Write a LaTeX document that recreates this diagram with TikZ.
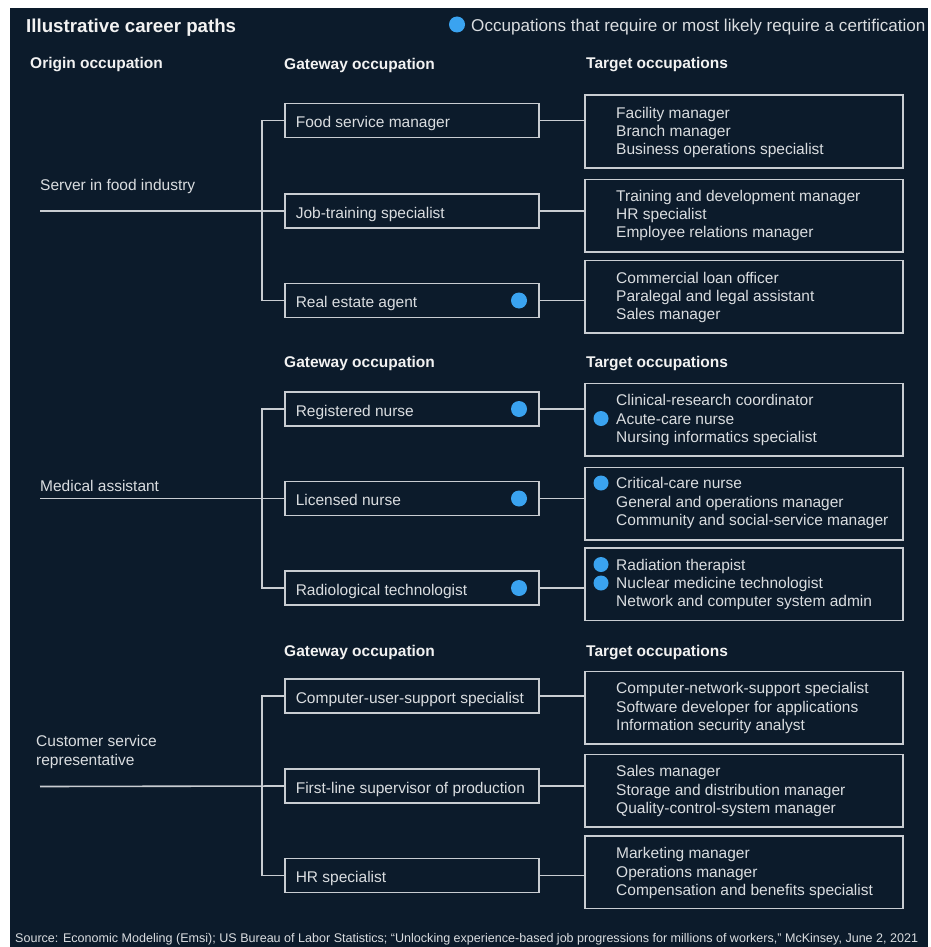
\documentclass[tikz,border=0pt]{standalone}
\usepackage{fontspec}
\setmainfont{Liberation Sans}
\usepackage{graphicx}
\definecolor{bgc}{HTML}{0C1B2B}
\definecolor{linec}{HTML}{C9CDD2}
\definecolor{txtc}{HTML}{DADDE0}
\definecolor{hdrc}{HTML}{F2F2F2}
\definecolor{dotc}{HTML}{3AA3F0}
\newcommand{\bodyfnt}{\fontsize{15.5}{18.3}\selectfont}
\newcommand{\hdrfnt}{\fontsize{15.5}{18}\selectfont\bfseries}
\begin{document}
\begin{tikzpicture}[x=1pt,y=-1pt,
  conn/.style={draw=linec, line width=1.6pt},
  gw/.style={draw=linec, line width=1.6pt, minimum height=34pt, inner xsep=11pt, inner ysep=0pt, text height=14pt, text depth=0pt, anchor=west, font=\bodyfnt, text=txtc},
  tbox/.style={draw=linec, line width=1.6pt, minimum width=318pt, minimum height=72.5pt, anchor=north west, inner sep=0pt},
  tlist/.style={anchor=west, align=left, font=\bodyfnt, text=txtc, inner sep=0pt},
  hdr/.style={anchor=west, font=\hdrfnt, text=hdrc, inner sep=0pt},
  orig/.style={anchor=west, align=left, font=\bodyfnt, text=txtc, inner sep=0pt},
  dotn/.style={circle, fill=dotc, minimum size=16pt, inner sep=0pt},
  tdot/.style={circle, fill=dotc, minimum size=15pt, inner sep=0pt}
]
\useasboundingbox (0,0) rectangle (930,947);
\fill[bgc] (10,8) rectangle (928,947);

% title and legend
\node[anchor=west, inner sep=0pt, text=hdrc, font=\fontsize{18.7}{20}\selectfont\bfseries] (title) at (26,28) {Illustrative career paths};
\node[dotn] (legdot) at (457,24.5) {};
\node[anchor=west, inner sep=0pt, text=txtc, font=\fontsize{17.1}{19}\selectfont] (legtxt) at (471,27) {Occupations that require or most likely require a certification};

% headers
\node[hdr] (hO) at (30,65) {Origin occupation};
\node[hdr] (hG1) at (284,65) {Gateway occupation};
\node[hdr] (hT1) at (586,65) {Target occupations};
\node[hdr] (hG2) at (284,363.5) {Gateway occupation};
\node[hdr] (hT2) at (586,363.5) {Target occupations};
\node[hdr] (hG3) at (284,652.5) {Gateway occupation};
\node[hdr] (hT3) at (586,652.5) {Target occupations};

\coordinate (bx) at (262,0);

% ---------- section 1
\node[orig] (o1) at (40,186) {Server in food industry};
\coordinate (o1s) at (40,211);
\node[gw] (g1) at (284,120.5) {\makebox[232pt][l]{Food service manager}};
\node[gw] (g2) at (284,211) {\makebox[232pt][l]{Job-training specialist}};
\node[gw] (g3) at (284,300.5) {\makebox[232pt][l]{Real estate agent}};
\node[dotn] (g3d) at (519,300.5) {};
\node[tbox] (t1) at (584,94.5) {};
\node[tbox] (t2) at (584,178.5) {};
\node[tbox] (t3) at (584,259.5) {};
\node[tlist] (t1x) at (616,132.5) {Facility manager\\Branch manager\\Business operations specialist};
\node[tlist] (t2x) at (616,215.5) {Training and development manager\\HR specialist\\Employee relations manager};
\node[tlist] (t3x) at (616,297.5) {Commercial loan officer\\Paralegal and legal assistant\\Sales manager};
\draw[conn] (g1.west) -- (g1.west -| bx) -- (g3.west -| bx) -- (g3.west);
\draw[conn] (o1s) -- (g2.west);
\draw[conn] (g1.east) -- (g1.east -| t1.west);
\draw[conn] (g2.east) -- (g2.east -| t2.west);
\draw[conn] (g3.east) -- (g3.east -| t3.west);

% ---------- section 2
\node[orig] (o2) at (40,486) {Medical assistant};
\coordinate (o2s) at (40,498.5);
\node[gw] (g4) at (284,409) {\makebox[232pt][l]{Registered nurse}};
\node[gw] (g5) at (284,498.5) {\makebox[232pt][l]{Licensed nurse}};
\node[gw] (g6) at (284,588) {\makebox[232pt][l]{Radiological technologist}};
\node[dotn] (g4d) at (519,409) {};
\node[dotn] (g5d) at (519,498.5) {};
\node[dotn] (g6d) at (519,588) {};
\node[tbox] (t4) at (584,382.5) {};
\node[tbox] (t5) at (584,466.5) {};
\node[tbox] (t6) at (584,547) {};
\node[tlist] (t4x) at (616,420) {Clinical-research coordinator\\Acute-care nurse\\Nursing informatics specialist};
\node[tlist] (t5x) at (616,503) {Critical-care nurse\\General and operations manager\\Community and social-service manager};
\node[tlist] (t6x) at (616,584.5) {Radiation therapist\\Nuclear medicine technologist\\Network and computer system admin};
\node[tdot] (t4d) at (601,418.5) {};
\node[tdot] (t5d) at (601,483) {};
\node[tdot] (t6d1) at (601,564.5) {};
\node[tdot] (t6d2) at (601,583) {};
\draw[conn] (g4.west) -- (g4.west -| bx) -- (g6.west -| bx) -- (g6.west);
\draw[conn] (o2s) -- (g5.west);
\draw[conn] (g4.east) -- (g4.east -| t4.west);
\draw[conn] (g5.east) -- (g5.east -| t5.west);
\draw[conn] (g6.east) -- (g6.east -| t6.west);

% ---------- section 3
\node[orig] (o3) at (36,752) {Customer service\\representative};
\coordinate (o3s) at (40,786.5);
\node[gw] (g7) at (284,696) {\makebox[232pt][l]{Computer-user-support specialist}};
\node[gw] (g8) at (284,786) {\makebox[232pt][l]{First-line supervisor of production}};
\node[gw] (g9) at (284,875.5) {\makebox[232pt][l]{HR specialist}};
\node[tbox] (t7) at (584,670.5) {};
\node[tbox] (t8) at (584,753.5) {};
\node[tbox] (t9) at (584,835) {};
\node[tlist] (t7x) at (616,708) {Computer-network-support specialist\\Software developer for applications\\Information security analyst};
\node[tlist] (t8x) at (616,791) {Sales manager\\Storage and distribution manager\\Quality-control-system manager};
\node[tlist] (t9x) at (616,873) {Marketing manager\\Operations manager\\Compensation and benefits specialist};
\draw[conn] (g7.west) -- (g7.west -| bx) -- (g9.west -| bx) -- (g9.west);
\draw[conn] (o3s) -- (g8.west);
\draw[conn] (g7.east) -- (g7.east -| t7.west);
\draw[conn] (g8.east) -- (g8.east -| t8.west);
\draw[conn] (g9.east) -- (g9.east -| t9.west);

% footer
\node[anchor=west, inner sep=0pt, text=txtc] (src) at (15,939) {\resizebox{903pt}{!}{\fontsize{12}{14}\selectfont Source: Economic Modeling (Emsi); US Bureau of Labor Statistics; ``Unlocking experience-based job progressions for millions of workers,'' McKinsey, June 2, 2021}};
\end{tikzpicture}
\end{document}
